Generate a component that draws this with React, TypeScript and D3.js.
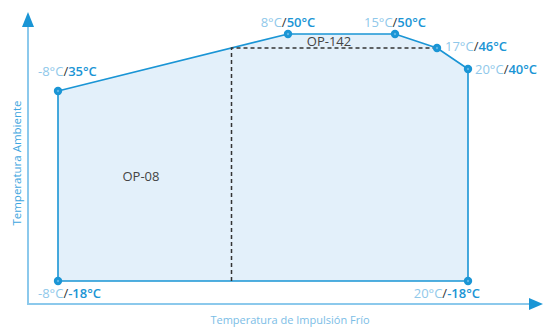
import React from "react";
import * as d3 from "d3";

const envelopeX = [-8, 8, 15, 17, 20, 20, -8];
const envelopeY = [35, 50, 50, 46, 40, -18, -18];
const op142TopY = 46;
const op142RightX = 17;
const areaNames = ["OP-08", "OP-142"];
const xTitle = "Temperatura de Impulsión Frío";
const yTitle = "Temperatura Ambiente";

const W = 543, H = 328;
const FONT = "'Open Sans', 'Noto Sans', sans-serif";
const LIGHT = "#8fc8ea";
const BLUE = "#1a95d5";
const DARK = "#333333";

export default function App() {
  const x = d3.scaleLinear().domain([-8, 8, 15, 17, 20]).range([58, 288, 395, 437, 468]);
  const y = d3.scaleLinear().domain([-18, 35, 40, 46, 50]).range([281, 91, 69, 48, 34]);

  const pts: [number, number][] = envelopeX.map((v, i) => [x(v), y(envelopeY[i])]);
  const line = d3.line().curve(d3.curveLinearClosed);
  // pixel intersection of first segment with the OP-142 top level
  const yTop = y(op142TopY);
  const t = (pts[0][1] - yTop) / (pts[0][1] - pts[1][1]);
  const xDivPx = pts[0][0] + t * (pts[1][0] - pts[0][0]);

  const fmt = (v: number) => `${v}°C`;

  const renderLabel = (i: number) => {
    const px = pts[i][0], py = pts[i][1];
    let lx = px, ly = py, anchor: any = "start";
    switch (i) {
      case 0: lx = px - 20; ly = py - 15; anchor = "start"; break;
      case 1: lx = px; ly = py - 7; anchor = "middle"; break;
      case 2: lx = px; ly = py - 7; anchor = "middle"; break;
      case 3: lx = px + 8; ly = py + 3; anchor = "start"; break;
      case 4: lx = px + 7; ly = py + 5; anchor = "start"; break;
      case 5: lx = px + 12; ly = py + 17; anchor = "end"; break;
      case 6: lx = px - 20; ly = py + 17; anchor = "start"; break;
    }
    return (
      <text key={"l" + i} x={lx} y={ly} textAnchor={anchor} fontFamily={FONT} fontSize={13}>
        <tspan fill={LIGHT}>{fmt(envelopeX[i])}</tspan>
        <tspan fill={DARK}>/</tspan>
        <tspan fill={BLUE} fontWeight={600}>{fmt(envelopeY[i])}</tspan>
      </text>
    );
  };

  const axisX0 = 28, axisY0 = 304;

  return (
    <svg width={W} height={H} style={{ position: "absolute", left: 0, top: 0 }}>
      <rect width={W} height={H} fill="#fff" />
      {/* axes */}
      <line x1={axisX0} y1={axisY0} x2={530} y2={axisY0} stroke="#8cc9ec" strokeWidth={2} />
      <path d={`M543,${axisY0} L529,${axisY0 - 6} L529,${axisY0 + 6} Z`} fill={BLUE} />
      <line x1={axisX0} y1={axisY0 + 1} x2={axisX0} y2={25} stroke="#8cc9ec" strokeWidth={2} />
      <path d={`M${axisX0},12 L${axisX0 - 6},27 L${axisX0 + 6},27 Z`} fill={BLUE} />
      {/* envelope */}
      <path d={line(pts) || ""} fill="#e3f0fa" stroke={BLUE} strokeWidth={1.6} strokeLinejoin="round" />
      {/* OP-142 dashed boundary */}
      <path
        d={`M${xDivPx},${y(-18)} L${xDivPx},${yTop} L${x(op142RightX)},${yTop}`}
        fill="none" stroke="#333" strokeWidth={1.5} strokeDasharray="4,3"
      />
      {pts.map((p, i) => (
        <g key={"c" + i}>
          <circle cx={p[0]} cy={p[1]} r={4.2} fill={BLUE} />
          <circle cx={p[0]} cy={p[1]} r={1.2} fill="#5fb6e6" />
        </g>
      ))}
      {pts.map((_, i) => renderLabel(i))}
      <text x={141} y={181} textAnchor="middle" fontFamily={FONT} fontSize={13} fill="#444">{areaNames[0]}</text>
      <text x={329} y={46} textAnchor="middle" fontFamily={FONT} fontSize={13} fill="#444">{areaNames[1]}</text>
      <text x={290} y={324} textAnchor="middle" fontFamily={FONT} fontSize={11} fill="#7bbde6">{xTitle}</text>
      <text transform="translate(21,163) rotate(-90)" textAnchor="middle" fontFamily={FONT} fontSize={11.5} fill="#3ea6e0">{yTitle}</text>
    </svg>
  );
}
